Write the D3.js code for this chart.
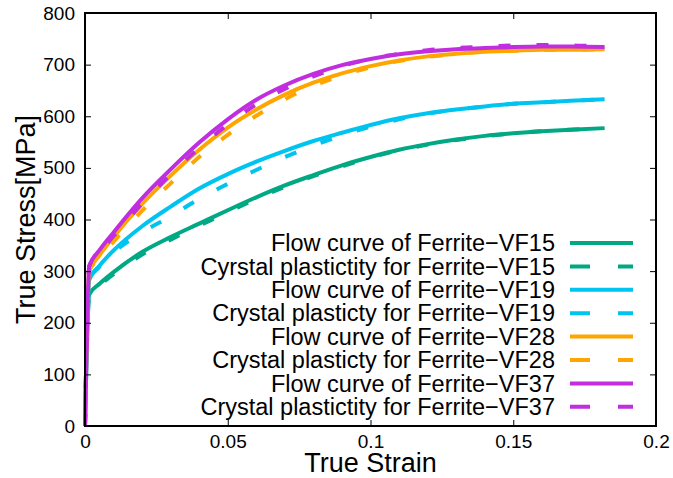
<!DOCTYPE html>
<html>
<head>
<meta charset="utf-8">
<script src="https://cdn.jsdelivr.net/npm/d3@7"></script>
<style>
  html, body { margin: 0; padding: 0; background: #fff; }
  text { font-family: "Liberation Sans", Arial, Helvetica, sans-serif; fill: #000; }
</style>
</head>
<body>
<script>
// true strain samples shared by all curves
const strain = [0, 0.0015, 0.005, 0.01, 0.02, 0.03, 0.04, 0.05, 0.06, 0.07, 0.08, 0.09,
  0.10, 0.11, 0.12, 0.13, 0.14, 0.15, 0.16, 0.17, 0.182];

// true stress [MPa]
const flowVF15 = [0, 255, 275, 298, 337, 366, 392, 418, 443, 466, 486, 505, 521, 535, 546, 555, 562, 567, 571, 574, 577];
const cpVF15   = [0, 255, 272, 294, 332, 361, 388, 414, 440, 463, 484, 503, 520, 534, 545, 554, 561, 567, 571, 574, 577];
const flowVF19 = [0, 283, 310, 340, 387, 425, 460, 488, 512, 533, 552, 568, 583, 596, 606, 613, 619, 624, 627, 630, 633];
const cpVF19   = [0, 283, 308, 336, 375, 406, 440, 469, 496, 521, 543, 563, 580, 594, 605, 613, 619, 624, 627, 630, 633];
const flowVF28 = [0, 300, 330, 366, 430, 485, 535, 578, 613, 642, 665, 683, 697, 708, 716, 721, 725, 727, 729, 729, 730];
const cpVF28   = [0, 300, 325, 357, 417, 470, 521, 564, 601, 633, 659, 679, 695, 707, 715, 721, 725, 727, 729, 729, 730];
const flowVF37 = [0, 310, 340, 375, 441, 497, 549, 594, 632, 660, 682, 699, 711, 720, 726, 730, 732, 734, 735, 735, 734];
const cpVF37   = [0, 310, 335, 368, 431, 487, 539, 584, 623, 653, 677, 697, 711, 721, 728, 732, 735, 737, 738, 737, 736];

const labels = [
  'Flow curve of Ferrite\u2212VF15',
  'Cyrstal plastictity for Ferrite\u2212VF15',
  'Flow curve of Ferrite\u2212VF19',
  'Crystal plasticty for Ferrite\u2212VF19',
  'Flow curve of Ferrite\u2212VF28',
  'Crystal plasticty for Ferrite\u2212VF28',
  'Flow curve of Ferrite\u2212VF37',
  'Crystal plastictity for Ferrite\u2212VF37'
];

const xTicks = [0, 0.05, 0.1, 0.15, 0.2];
const yTicks = [0, 100, 200, 300, 400, 500, 600, 700, 800];

const colors = ['#00a884', '#00a884', '#00c4f0', '#00c4f0', '#ffa500', '#ffa500', '#c02ee0', '#c02ee0'];
const series = [flowVF15, cpVF15, flowVF19, cpVF19, flowVF28, cpVF28, flowVF37, cpVF37];

const W = 673, H = 478;
const margin = { top: 13, right: 17, bottom: 52, left: 85 };
const width = W - margin.left - margin.right;
const height = H - margin.top - margin.bottom;

const svg = d3.select('body').append('svg')
  .attr('width', W)
  .attr('height', H);

const g = svg.append('g')
  .attr('transform', `translate(${margin.left},${margin.top})`);

const x = d3.scaleLinear().domain([0, 0.2]).range([0, width]);
const y = d3.scaleLinear().domain([0, 800]).range([height, 0]);

// curves
const line = d3.line()
  .x(d => x(d[0]))
  .y(d => y(d[1]))
  .curve(d3.curveMonotoneX);

series.forEach((s, i) => {
  g.append('path')
    .datum(strain.map((e, k) => [e, s[k]]))
    .attr('fill', 'none')
    .attr('stroke', colors[i])
    .attr('stroke-width', 4)
    .attr('stroke-dasharray', i % 2 ? '12,26' : null)
    .attr('d', line);
});

// axes (gnuplot style: inward ticks, mirrored)
const axStyle = sel => {
  sel.select('.domain').remove();
  sel.selectAll('line').attr('stroke', '#000').attr('stroke-width', 1);
  sel.selectAll('text').style('font-size', '19px').attr('fill', '#000');
};

g.append('g')
  .attr('transform', `translate(0,${height})`)
  .call(d3.axisBottom(x).tickValues(xTicks).tickSize(-6).tickPadding(9).tickFormat(d3.format('')))
  .call(axStyle);

g.append('g')
  .call(d3.axisLeft(y).tickValues(yTicks).tickSize(-6).tickPadding(10).tickFormat(d3.format('d')))
  .call(axStyle);

g.append('g')
  .call(d3.axisTop(x).tickValues(xTicks).tickSize(-6).tickFormat(''))
  .call(axStyle);

g.append('g')
  .attr('transform', `translate(${width},0)`)
  .call(d3.axisRight(y).tickValues(yTicks).tickSize(-6).tickFormat(''))
  .call(axStyle);

g.append('rect')
  .attr('width', width)
  .attr('height', height)
  .attr('fill', 'none')
  .attr('stroke', '#000')
  .attr('stroke-width', 2);

// axis titles
svg.append('text')
  .attr('x', margin.left + width / 2)
  .attr('y', 472)
  .attr('text-anchor', 'middle')
  .style('font-size', '27px')
  .text('True Strain');

svg.append('text')
  .attr('transform', `translate(35,${margin.top + height / 2}) rotate(-90)`)
  .attr('text-anchor', 'middle')
  .style('font-size', '27px')
  .text('True Stress[MPa]');

// legend
const legend = svg.append('g');
labels.forEach((t, i) => {
  const ly = 243 + i * 23.4;
  legend.append('text')
    .attr('x', 555)
    .attr('y', ly)
    .attr('dy', '0.35em')
    .attr('text-anchor', 'end')
    .style('font-size', '23.5px')
    .text(t);
  legend.append('line')
    .attr('x1', 570).attr('x2', 633)
    .attr('y1', ly).attr('y2', ly)
    .attr('stroke', colors[i])
    .attr('stroke-width', 4)
    .attr('stroke-dasharray', i % 2 ? '20,28' : null);
});
</script>
</body>
</html>
